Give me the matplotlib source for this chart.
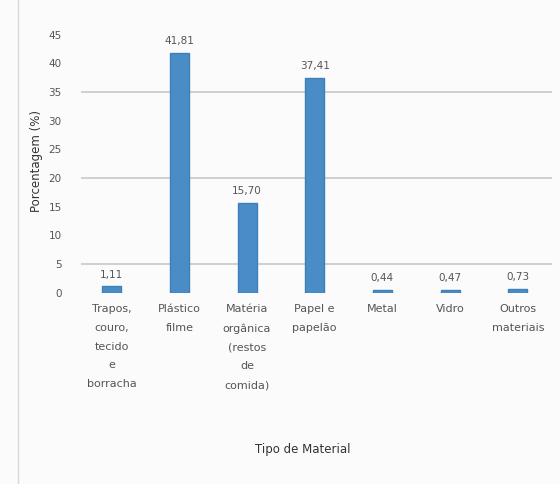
import matplotlib
matplotlib.use("Agg")
import matplotlib.pyplot as plt
import numpy as np

# Data
categories = ["Trapos,\ncouro,\ntecido\ne\nborracha", "Plástico\nfilme",
              "Matéria\norgânica\n(restos\nde\ncomida)", "Papel e\npapelão",
              "Metal", "Vidro", "Outros\nmateriais"]
values = [1.11, 41.81, 15.70, 37.41, 0.44, 0.47, 0.73]
value_labels = ["1,11", "41,81", "15,70", "37,41", "0,44", "0,47", "0,73"]
yticks = [0, 5, 10, 15, 20, 25, 30, 35, 40, 45]
gridlines = [5, 20, 35]

plt.rcParams['font.family'] = ['DejaVu Sans']

fig = plt.figure(figsize=(5.6, 4.84), dpi=100, facecolor="#fbfbfb")
ax = fig.add_axes([0.145, 0.395, 0.84, 0.545])
ax.set_facecolor("#fbfbfb")

x = np.arange(len(categories))
ax.bar(x, values, width=0.28, color="#4a8cc6", edgecolor="#3f7fb8", zorder=3)

for g in gridlines:
    ax.axhline(g, color="#c8c8c8", linewidth=1.2, zorder=1)

for xi, v, lab in zip(x, values, value_labels):
    ax.text(xi, v + 1.2, lab, ha="center", va="bottom", fontsize=7.5, color="#555555")

ax.set_xlim(-0.45, 6.5)
ax.set_ylim(0, 46)
ax.set_yticks(yticks)
ax.set_xticks(x)
ax.set_xticklabels(categories, fontsize=8, color="#555555", linespacing=2.1)
ax.tick_params(axis="y", labelsize=7.5, colors="#555555", length=0, pad=14)
ax.tick_params(axis="x", length=0, pad=8)
for s in ax.spines.values():
    s.set_visible(False)

ax.set_ylabel("Porcentagem (%)", fontsize=8.5, color="#333333", labelpad=4)
fig.text(0.54, 0.065, "Tipo de Material", ha="center", fontsize=8.5, color="#333333")

# thin frame line on the left like the source
fig.add_artist(plt.Line2D([0.033, 0.033], [0.0, 1.0], color="#d8d8d8", linewidth=1))

fig.savefig("out.png", dpi=100, facecolor=fig.get_facecolor())
